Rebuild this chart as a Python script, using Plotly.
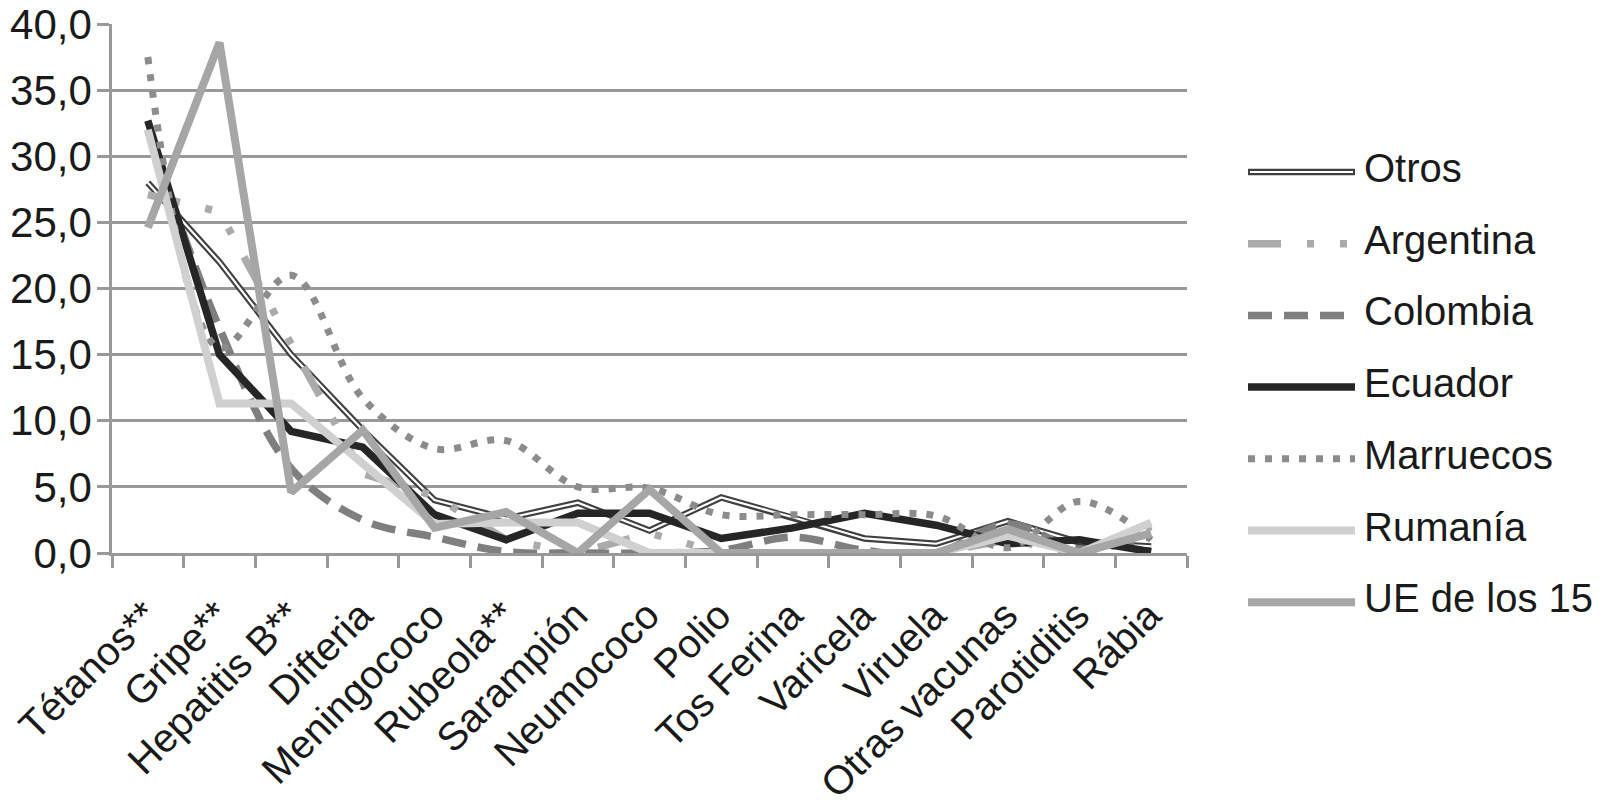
import plotly.graph_objects as go

# ---------------- data ----------------
categories = ["Tétanos**", "Gripe**", "Hepatitis B**", "Difteria", "Meningococo",
              "Rubeola**", "Sarampión", "Neumococo", "Polio", "Tos Ferina",
              "Varicela", "Viruela", "Otras vacunas", "Parotiditis", "Rábia"]

otros     = [28.0, 22.0, 15.0, 9.3, 4.0, 2.6, 3.8, 1.7, 4.2, 2.7, 1.1, 0.7, 2.4, 0.8, 0.5]
argentina = [27.1, 25.8, 15.8, 6.0, 4.3, 1.0, 0.0, 1.5, 0.0, 0.0, 0.0, 0.0, 1.0, 0.0, 2.0]
colombia  = [32.0, 17.0, 6.4, 2.5, 1.2, 0.1, 0.0, 0.0, 0.2, 1.2, 0.2, 0.0, 2.2, 0.3, 1.3]
ecuador   = [32.7, 15.0, 9.2, 8.0, 2.9, 1.0, 3.0, 3.0, 1.1, 1.9, 3.0, 2.1, 0.7, 1.0, 0.1]
marruecos = [37.5, 15.5, 21.0, 11.7, 7.9, 8.5, 5.0, 4.9, 2.9, 2.9, 2.9, 2.8, 0.4, 3.9, 1.0]
rumania   = [32.0, 11.3, 11.3, 6.8, 2.2, 2.3, 2.3, 0.0, 0.0, 0.0, 0.0, 0.0, 1.3, 0.0, 2.3]
ue15      = [24.6, 38.6, 4.6, 9.3, 1.9, 3.1, 0.0, 4.8, 0.0, 0.0, 0.0, 0.0, 1.8, 0.0, 1.5]

series_names = ["Otros", "Argentina", "Colombia", "Ecuador", "Marruecos", "Rumanía", "UE de los 15"]
y_ticks = [0, 5, 10, 15, 20, 25, 30, 35, 40]

# ---------------- styles ----------------
FONT = "Liberation Sans, Arial, sans-serif"
GRID = "#999999"
styles = {
    "Otros":        dict(color="#404040", width=6.5, dash="solid", shape="linear"),
    "Argentina":    dict(color="#ababab", width=7.5, dash="33px,26px,7px,26px,7px,26px", shape="linear"),
    "Colombia":     dict(color="#7f7f7f", width=7.5, dash="24px,12px", shape="spline"),
    "Ecuador":      dict(color="#262626", width=7.5, dash="solid", shape="linear"),
    "Marruecos":    dict(color="#8c8c8c", width=7, dash="7px,10px", shape="spline"),
    "Rumanía":      dict(color="#d0d0d0", width=8, dash="solid", shape="linear"),
    "UE de los 15": dict(color="#a6a6a6", width=8, dash="solid", shape="linear"),
}
data = dict(zip(series_names, [otros, argentina, colombia, ecuador, marruecos, rumania, ue15]))

fig = go.Figure()
for name in series_names:
    st = styles[name]
    fig.add_trace(go.Scatter(
        x=categories, y=data[name], mode="lines", name=name,
        line=dict(color=st["color"], width=st["width"], dash=st["dash"],
                  shape=st["shape"]),
        cliponaxis=False, showlegend=False))
    if name == "Otros":
        fig.add_trace(go.Scatter(
            x=categories, y=data[name], mode="lines", name=name,
            line=dict(color="white", width=2.2), cliponaxis=False, showlegend=False))

# ---------------- geometry ----------------
W, H = 1601, 807
PAGE_OFF = 8          # default body margin of the written html page
L, R, T, B = 112, 1187, 24, 553   # target plot-area pixels on the page
pw, ph = R - L, B - T

def px_x(p):
    return (p - L) / pw

def px_y(p):
    return (B - p) / ph

# custom legend (long line samples as in the reference)
shapes = []
annotations = []
leg_top, leg_step = 172, 71.7
lx0, lx1, tx = 1248, 1355, 1362
for i, name in enumerate(series_names):
    st = styles[name]
    yy = px_y(leg_top + i * leg_step)
    shapes.append(dict(type="line", xref="paper", yref="paper",
                       x0=px_x(lx0), x1=px_x(lx1), y0=yy, y1=yy,
                       line=dict(color=st["color"], width=st["width"],
                                 dash=st["dash"])))
    if name == "Otros":
        shapes.append(dict(type="line", xref="paper", yref="paper",
                           x0=px_x(lx0 + 2), x1=px_x(lx1 - 2), y0=yy, y1=yy,
                           line=dict(color="white", width=2.2)))
    annotations.append(dict(xref="paper", yref="paper", x=px_x(tx), y=yy,
                            text=name, showarrow=False, xanchor="left",
                            yanchor="middle", yshift=4,
                            font=dict(family=FONT, size=40, color="#1a1a1a")))

fig.update_layout(
    width=W, height=H,
    margin=dict(l=L - PAGE_OFF, r=W - R + PAGE_OFF, t=T - PAGE_OFF,
                b=H - B + PAGE_OFF, pad=0, autoexpand=False),
    paper_bgcolor="white", plot_bgcolor="white",
    separators=",.",
    showlegend=False,
    shapes=shapes, annotations=annotations,
    font=dict(family=FONT, size=40, color="#1a1a1a"),
)
fig.update_xaxes(
    type="category", range=[-0.5, len(categories) - 0.5],
    showgrid=False, showline=True, linecolor=GRID, linewidth=2.5,
    ticks="outside", tickson="boundaries", ticklen=12, tickcolor=GRID, tickwidth=2.5,
    tickangle=-45, layer="below traces", automargin=False,
    ticklabelstandoff=20, ticklabelshift=-2, ticklabeloverflow="allow",
    tickfont=dict(family=FONT, size=40, color="#1a1a1a"),
)
fig.update_yaxes(
    range=[0, 40], tickvals=y_ticks, tickformat=".1f",
    showgrid=True, gridcolor=GRID, gridwidth=2.5, zeroline=False,
    showline=True, linecolor=GRID, linewidth=2.5,
    ticks="outside", ticklen=12, tickcolor=GRID, tickwidth=2.5,
    layer="below traces", automargin=False, ticklabeloverflow="allow",
    ticklabelstandoff=-3,
    tickfont=dict(family=FONT, size=42, color="#1a1a1a"),
)

fig.write_html("out.html")
